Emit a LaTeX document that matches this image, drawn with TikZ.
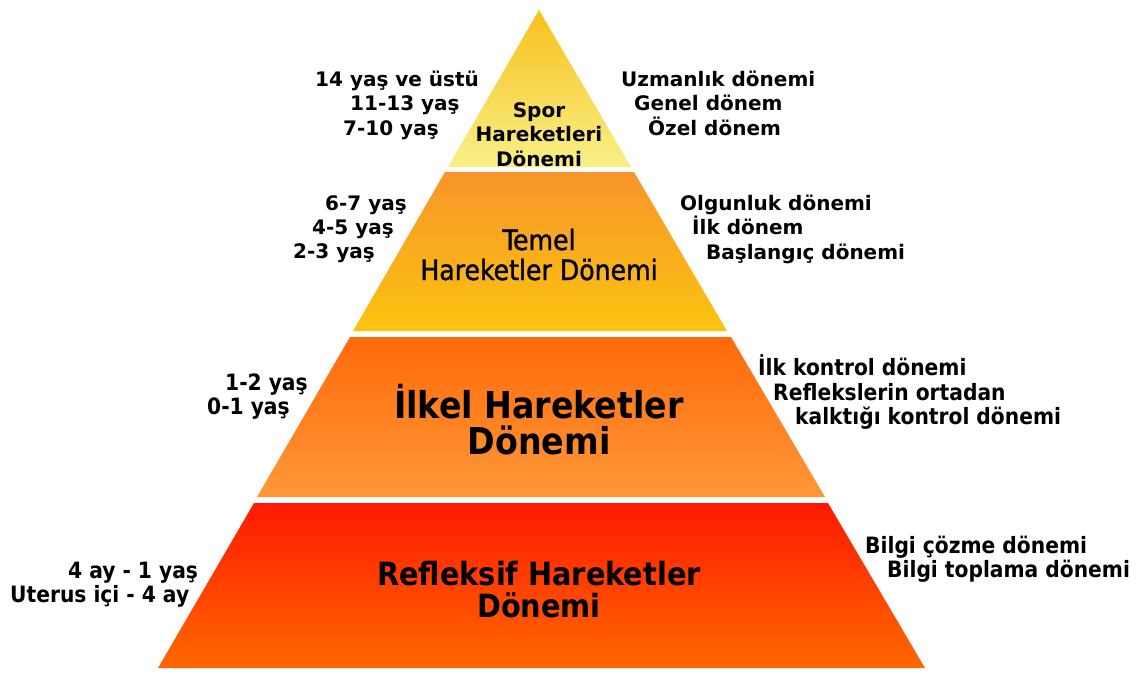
\documentclass[tikz,border=0pt]{standalone}
\usepackage{fontspec}
\setmainfont{DejaVu Sans}
\newfontfamily\condfont{DejaVu Sans Condensed}
\newfontfamily\condsemi[FakeBold=1.2]{DejaVu Sans Condensed}
\definecolor{tierAtop}{HTML}{F8C01C}
\definecolor{tierAbot}{HTML}{F8F088}
\definecolor{tierBtop}{HTML}{F8952A}
\definecolor{tierBbot}{HTML}{FBC410}
\definecolor{tierCtop}{HTML}{FF6A0A}
\definecolor{tierCbot}{HTML}{FF9838}
\definecolor{tierDtop}{HTML}{FF1A00}
\definecolor{tierDbot}{HTML}{FF6800}
\begin{document}
\begin{tikzpicture}[x=1pt,y=-1pt,
	agelbl/.style={anchor=base west,inner sep=0pt,font=\fontsize{20}{24}\selectfont\bfseries},
	sublbl/.style={anchor=base west,inner sep=0pt,font=\condfont\fontsize{22.5}{26}\selectfont\bfseries},
	toplbl/.style={anchor=base,inner sep=0pt,font=\fontsize{20}{24}\selectfont\bfseries},
	midlbl/.style={anchor=base,inner sep=0pt,font=\condsemi\fontsize{28}{30}\selectfont},
	biglbl/.style={anchor=base,inner sep=0pt,font=\condfont\fontsize{37}{38}\selectfont\bfseries}]
	\useasboundingbox[fill=white] (0,0) rectangle (1136,673);
	
	\shade[top color=tierAtop,bottom color=tierAbot] (539,10) -- (631,167) -- (448,167) -- cycle;
	\shade[top color=tierBtop,bottom color=tierBbot] (445,172) -- (634,172) -- (727,331) -- (353,331) -- cycle;
	\shade[top color=tierCtop,bottom color=tierCbot] (350,337) -- (731,337) -- (825,497) -- (257,497) -- cycle;
	\shade[top color=tierDtop,bottom color=tierDbot] (254,503) -- (828,503) -- (925,668) -- (158,668) -- cycle;
	
	\node[toplbl] (spor) at (539,117) {Spor};
	\node[toplbl] (spor2) at (539,141) {Hareketleri};
	\node[toplbl] (spor3) at (539,166) {Dönemi};
	\node[agelbl] (age14) at (315,86) {14 yaş ve üstü};
	\node[agelbl] (age11) at (350,110) {11-13 yaş};
	\node[agelbl] (age7) at (343,135) {7-10 yaş};
	\node[agelbl] (uzman) at (621,86) {Uzmanlık dönemi};
	\node[agelbl] (genel) at (634,110) {Genel dönem};
	\node[agelbl] (ozel) at (648,135) {Özel dönem};
	
	\node[midlbl] (temel) at (539,250) {Temel};
	\node[midlbl] (temel2) at (539,280) {Hareketler Dönemi};
	\node[agelbl] (age6) at (325,210) {6-7 yaş};
	\node[agelbl] (age4) at (312,234) {4-5 yaş};
	\node[agelbl] (age2) at (293,258) {2-3 yaş};
	\node[agelbl] (olgun) at (680,210) {Olgunluk dönemi};
	\node[agelbl] (ilk) at (692,234) {İlk dönem};
	\node[agelbl] (basla) at (706,259) {Başlangıç dönemi};
	
	\node[biglbl] (ilkel) at (539,418) {İlkel Hareketler};
	\node[biglbl] (ilkel2) at (539,454) {Dönemi};
	\node[sublbl] (age1) at (225,390) {1-2 yaş};
	\node[sublbl] (age0) at (207,414) {0-1 yaş};
	\node[sublbl] (kontrol) at (758,375) {İlk kontrol dönemi};
	\node[sublbl] (refl) at (773,400) {Reflekslerin ortadan};
	\node[sublbl] (kalk) at (795,424) {kalktığı kontrol dönemi};
	
	\node[biglbl,font=\condfont\fontsize{32}{34}\selectfont\bfseries] (refleks) at (539,585) {Refleksif Hareketler};
	\node[biglbl,font=\condfont\fontsize{32}{34}\selectfont\bfseries] (refleks2) at (539,617) {Dönemi};
	\node[sublbl] (ay4) at (68,578) {4 ay - 1 yaş};
	\node[sublbl] (uterus) at (10,602) {Uterus içi - 4 ay};
	\node[sublbl] (cozme) at (865,553) {Bilgi çözme dönemi};
	\node[sublbl] (topla) at (887,577) {Bilgi toplama dönemi};
\end{tikzpicture}
\end{document}
